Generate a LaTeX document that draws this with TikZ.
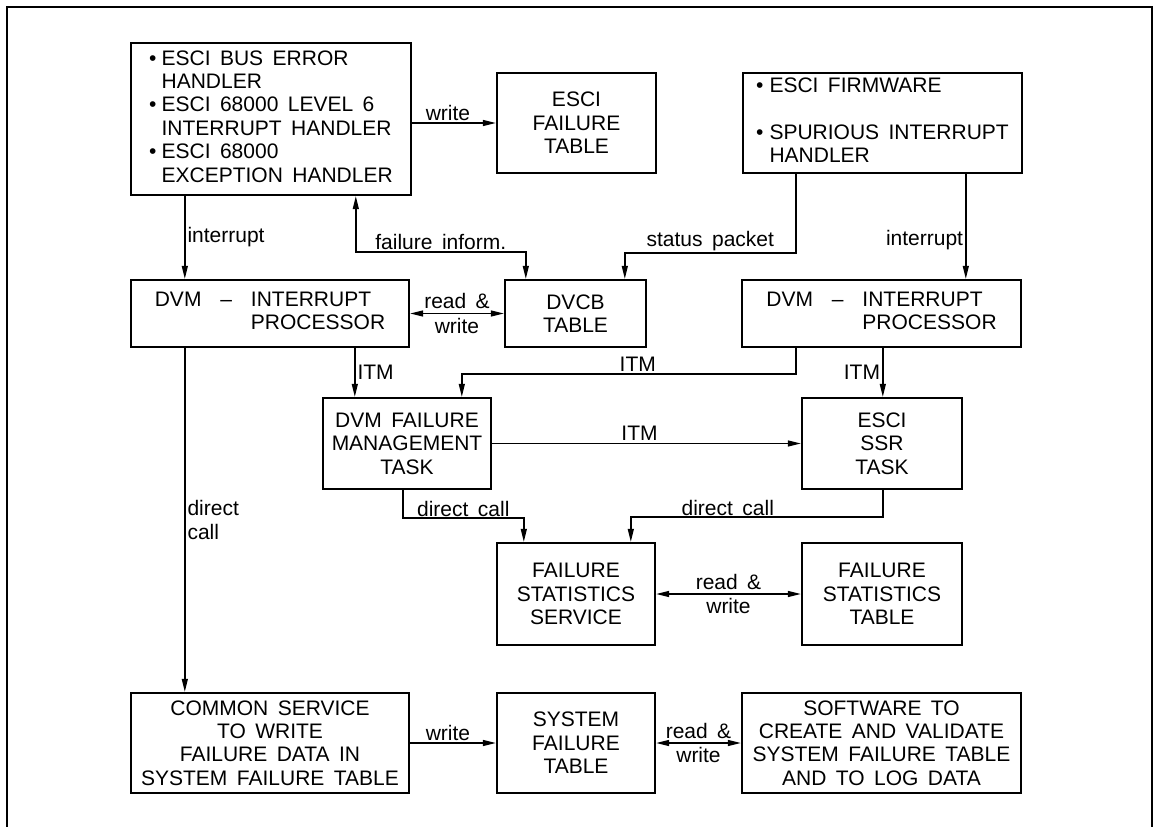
\documentclass[tikz,border=0pt]{standalone}
\usepackage{fontspec}
\setmainfont{Liberation Sans}
\usepackage{tikz}
\usetikzlibrary{arrows.meta}

\newcommand{\boxfont}{\fontsize{21}{23.4}\selectfont\spaceskip=0.45em plus 0.1em}

\begin{document}
\begin{tikzpicture}[x=1pt, y=-1pt,
    box/.style={draw, line width=2.4pt, inner sep=0pt, align=center, font=\boxfont},
    lbl/.style={font=\boxfont, inner sep=2pt},
    conn/.style={line width=1.5pt, -{Triangle[length=13pt,width=6pt]}},
    both/.style={line width=1.5pt, {Triangle[length=13pt,width=6pt]}-{Triangle[length=13pt,width=6pt]}}]
                \useasboundingbox (0,0) rectangle (1154,827);

                % frame
                \draw[line width=1.4pt] (7,827) -- (7,7) -- (1152,7) -- (1152,827);

                % top row
                \node[box, minimum width=280pt, minimum height=152pt] (handler) at (271,119)
                    {\begin{tabular}{@{}l@{\hspace{5pt}}l@{}}
                     \textbullet & ESCI BUS ERROR\\
                                 & HANDLER\\
                     \textbullet & ESCI 68000 LEVEL 6\\
                                 & INTERRUPT HANDLER\\
                     \textbullet & ESCI 68000\\
                                 & EXCEPTION HANDLER
                     \end{tabular}};
                \node[box, minimum width=159pt, minimum height=100pt] (esciTable) at (576.5,123) {ESCI\\FAILURE\\TABLE};
                \node[box, minimum width=279pt, minimum height=100pt] (firmware) at (882.5,123)
                    {\begin{tabular}{@{}l@{\hspace{6pt}}l@{}}
                     \textbullet & ESCI FIRMWARE\\[23.4pt]
                     \textbullet & SPURIOUS INTERRUPT\\
                                 & HANDLER
                     \end{tabular}};

                % interrupt processors and DVCB
                \node[box, minimum width=278pt, minimum height=67pt] (dvmL) at (270,313.5)
                    {\begin{tabular}{@{}l@{}}DVM\ \ --\ \ INTERRUPT\\\phantom{DVM\ \ --\ \ }PROCESSOR\end{tabular}};
                \node[box, minimum width=141pt, minimum height=67pt] (dvcb) at (575.5,313.5) {DVCB\\TABLE};
                \node[box, minimum width=279pt, minimum height=67pt] (dvmR) at (881.5,313.5)
                    {\begin{tabular}{@{}l@{}}DVM\ \ --\ \ INTERRUPT\\\phantom{DVM\ \ --\ \ }PROCESSOR\end{tabular}};

                % tasks
                \node[box, minimum width=168pt, minimum height=91pt] (fmTask) at (407,443.5) {DVM FAILURE\\MANAGEMENT\\TASK};
                \node[box, minimum width=160pt, minimum height=91pt] (ssr) at (882,443.5) {ESCI\\SSR\\TASK};

                % statistics
                \node[box, minimum width=158pt, minimum height=102pt] (fss) at (576,594) {FAILURE\\STATISTICS\\SERVICE};
                \node[box, minimum width=160pt, minimum height=102pt] (fst) at (882,594) {FAILURE\\STATISTICS\\TABLE};

                % bottom row
                \node[box, minimum width=278pt, minimum height=100pt] (common) at (270,743) {COMMON SERVICE\\TO WRITE\\FAILURE DATA IN\\SYSTEM FAILURE TABLE};
                \node[box, minimum width=158pt, minimum height=100pt] (sft) at (576,743) {SYSTEM\\FAILURE\\TABLE};
                \node[box, minimum width=279pt, minimum height=100pt] (software) at (881.5,743) {SOFTWARE TO\\CREATE AND VALIDATE\\SYSTEM FAILURE TABLE\\AND TO LOG DATA};

                % connector ends
                \coordinate (intL) at ([xshift=55pt]handler.south west);
                \coordinate (failUp) at ([xshift=226pt]handler.south west);
                \coordinate (failDn) at ([xshift=22pt]dvcb.north west);
                \coordinate (statOut) at ([xshift=54pt]firmware.south west);
                \coordinate (statIn) at ([xshift=121pt]dvcb.north west);
                \coordinate (intR) at ([xshift=224pt]firmware.south west);
                \coordinate (itmL) at ([xshift=225pt]dvmL.south west);
                \coordinate (itmOut) at ([xshift=55pt]dvmR.south west);
                \coordinate (itmIn) at ([xshift=140pt]fmTask.north west);
                \coordinate (itmSsr) at ([xshift=142pt]dvmR.south west);
                \coordinate (dcLOut) at ([xshift=81pt]fmTask.south west);
                \coordinate (dcLIn) at ([xshift=28pt]fss.north west);
                \coordinate (dcROut) at ([xshift=82pt]ssr.south west);
                \coordinate (dcRIn) at ([xshift=135pt]fss.north west);
                \coordinate (dcMain) at ([xshift=55pt]dvmL.south west);

                % top arrows
                \draw[conn] (esciTable.west -| handler.east) -- (esciTable.west)
                    node[lbl, midway, above, xshift=-6pt] {write};
                \draw[conn] (intL) -- (intL |- dvmL.north)
                    node[lbl, midway, right] {interrupt};
                \draw[both] (failUp) -- ++(0,56) -| node[lbl, pos=0.25, above] {failure inform.} (failDn);
                \draw[conn] (statOut) -- ++(0,79) -| node[lbl, pos=0.25, above] {status packet} (statIn);
                \draw[conn] (intR) -- (intR |- dvmR.north)
                    node[lbl, pos=0.63, left] {interrupt};
                \draw[both] (dvmL.east) -- (dvcb.west)
                    node[lbl, midway, above, inner sep=4pt] {read \&} node[lbl, midway, below, inner sep=4pt] {write};

                % ITM
                \draw[conn] (itmL) -- (itmL |- fmTask.north)
                    node[lbl, midway, right] {ITM};
                \draw[conn] (itmOut) -- ++(0,26) -| node[lbl, pos=0.25, above, xshift=9pt] {ITM} (itmIn);
                \draw[conn] (itmSsr) -- (itmSsr |- ssr.north)
                    node[lbl, midway, left] {ITM};
                \draw[conn] (fmTask.east) -- (ssr.west)
                    node[lbl, midway, above, xshift=-7pt] {ITM};

                % direct calls
                \draw[conn] (dcLOut) -- ++(0,28) -| node[lbl, pos=0.25, above, inner sep=1pt] {direct call} (dcLIn);
                \draw[conn] (dcROut) -- ++(0,27) -| node[lbl, pos=0.25, above, inner sep=1pt, xshift=-29pt] {direct call} (dcRIn);
                \draw[conn] (dcMain) -- (dcMain |- common.north)
                    node[lbl, midway, right, align=left] {direct\\call};

                % lower arrows
                \draw[both] (fss.east) -- (fst.west)
                    node[lbl, midway, above, inner sep=4pt] {read \&} node[lbl, midway, below, inner sep=4pt] {write};
                \draw[conn] (common.east) -- (sft.west)
                    node[lbl, midway, above, xshift=-5pt] {write};
                \draw[both] (sft.east) -- (software.west)
                    node[lbl, midway, above, inner sep=4pt] {read \&} node[lbl, midway, below, inner sep=4pt] {write};
\end{tikzpicture}
\end{document}
